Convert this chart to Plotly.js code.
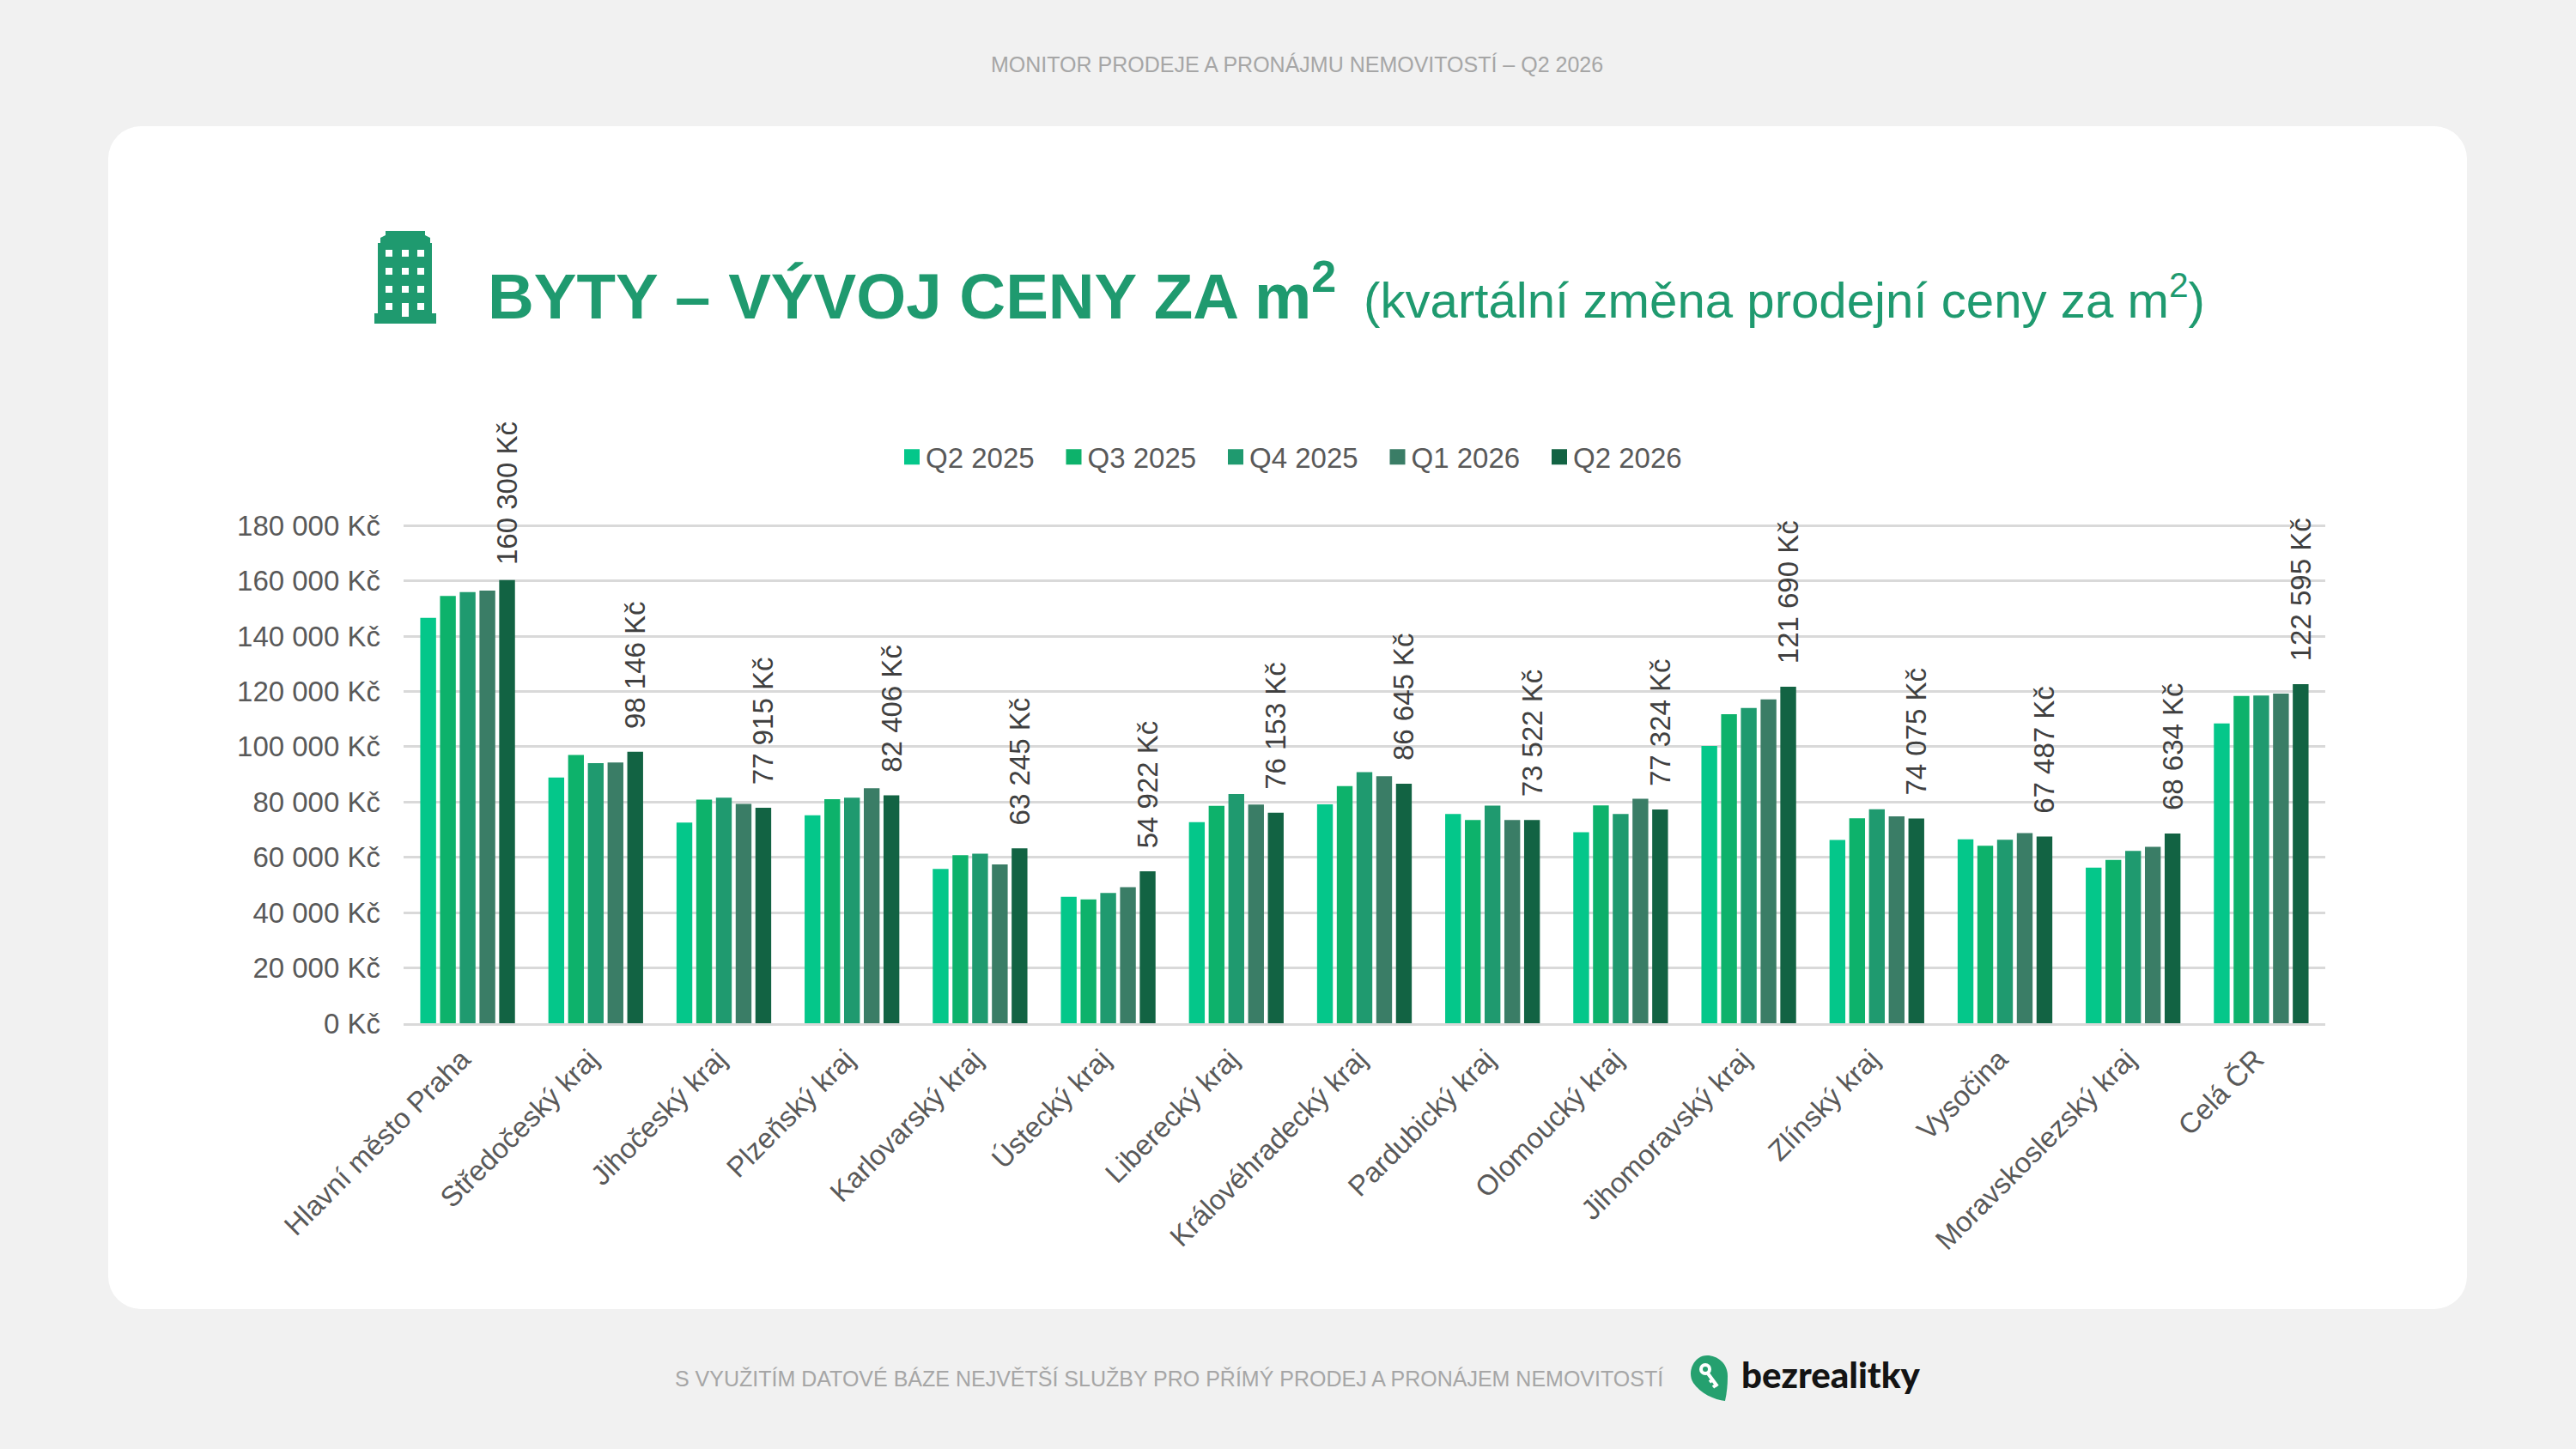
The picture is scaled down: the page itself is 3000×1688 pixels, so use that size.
<!DOCTYPE html>
<html>
<head>
<meta charset="utf-8">
<script src="https://cdn.plot.ly/plotly-3.0.1.min.js"></script>
<style>
  html, body { margin: 0; padding: 0; background: #f1f1f1; }
  #page { position: relative; width: 3000px; height: 1688px; overflow: hidden; background: #f1f1f1; }
  #card { position: absolute; left: 126px; top: 147px; width: 2747px; height: 1378px; background: #fff; border-radius: 38px; }
  #chart { position: absolute; left: 0; top: 0; width: 3000px; height: 1688px; }
  #building { position: absolute; left: 436px; top: 269px; }
  #logo { position: absolute; left: 1964px; top: 1576px; }
</style>
</head>
<body>
<div id="page">
  <div id="card"></div>
  <div id="chart"></div>
  <svg id="building" width="72" height="108" viewBox="0 0 72 108">
    <path fill="#1f9a6f" d="M0 108V96H4V14H7V8L13 5V0H59V5L65 8V14H67V96H72V108Z"/>
    <g fill="#fff">
      <rect x="13" y="22" width="8" height="8"/><rect x="32" y="22" width="8" height="8"/><rect x="50" y="22" width="8" height="8"/>
      <rect x="13" y="43" width="8" height="8"/><rect x="32" y="43" width="8" height="8"/><rect x="50" y="43" width="8" height="8"/>
      <rect x="13" y="64" width="8" height="8"/><rect x="32" y="64" width="8" height="8"/><rect x="50" y="64" width="8" height="8"/>
      <rect x="13" y="84" width="8" height="8"/><rect x="32" y="84" width="8" height="16"/><rect x="50" y="84" width="8" height="8"/>
    </g>
  </svg>
  <svg id="logo" width="280" height="62" viewBox="0 0 280 62">
    <path fill="#25a06f" d="M24 3C36 3 48 12 48 27C48 38 47 47 45 56C33 55 16 47 8 35C0 22 9 3 24 3Z"/>
    <circle cx="22" cy="19" r="7" fill="#fff"/>
    <circle cx="22" cy="19" r="3" fill="#25a06f"/>
    <path d="M25 24L36 39M31 31L27 34M35 37L31 40" fill="none" stroke="#fff" stroke-width="4"/>
    <text x="64" y="41" font-family="Lato" font-weight="900" font-size="42" fill="#141414">bezrealitky</text>
  </svg>
</div>
<script type="text/javascript">

    /* * Data * */
    var categories = ['Hlavní město Praha','Středočeský kraj','Jihočeský kraj','Plzeňský kraj','Karlovarský kraj','Ústecký kraj','Liberecký kraj','Královéhradecký kraj','Pardubický kraj','Olomoucký kraj','Jihomoravský kraj','Zlínský kraj','Vysočina','Moravskoslezský kraj','Celá ČR'];
    var q2_2025 = [146600,88900,72600,75200,55800,45700,72700,79200,75700,69100,100300,66300,66500,56300,108400];
    var q3_2025 = [154500,97000,80900,81000,60800,44800,78600,85800,73500,78800,111800,74100,64200,59100,118400];
    var q4_2025 = [155900,94100,81600,81600,61300,47100,82900,90800,78700,75700,114000,77400,66400,62300,118500];
    var q1_2026 = [156500,94300,79300,85000,57400,49200,79100,89300,73500,81200,117100,74800,68800,63800,119200];
    var q2_2026 = [160300,98146,77915,82406,63245,54922,76153,86645,73522,77324,121690,74075,67487,68634,122595];
    var series_names = ['Q2 2025','Q3 2025','Q4 2025','Q1 2026','Q2 2026'];
    var series_colors = ['#04c78a','#0db26b','#1f9a6f','#3a7d66','#126343'];
    var series_values = [q2_2025,q3_2025,q4_2025,q1_2026,q2_2026];

    var font_name = '"Liberation Sans", Arial, sans-serif';

    /* * Utilities * */
    /* top edge sits a little above 180 000, Plotly drops a gridline lying on the very edge */
    var plot_left = 470, plot_right = 2708, plot_top = 608.8, plot_bottom = 1192.5;
    var y_max = 181000;

    function paper_x(px) { return (px - plot_left) / (plot_right - plot_left); }
    function paper_y(py) { return (plot_bottom - py) / (plot_bottom - plot_top); }

    /* leading spaces lift the rotated label off the bar, the first one sits closer */
    function price_label(v, i) {
        var s = String(v);
        var pad = i == 0 ? '\u00a0\u2006' : '\u00a0\u00a0\u2006';
        return pad + s.slice(0, -3) + ' ' + s.slice(-3) + ' Kč';
    }

    function page_text(text, px, py, size, color, anchor) {
        return {
            text: text, xref: 'paper', yref: 'paper', x: paper_x(px), y: paper_y(py),
            xanchor: anchor, yanchor: 'middle', showarrow: false,
            font: { family: font_name, size: size, color: color }
        };
    }

    /* * Traces * */
    var data = [];
    for (var i in series_names) {
        var trace = {
            type: 'bar',
            name: series_names[i],
            x: categories,
            y: series_values[i],
            marker: { color: series_colors[i] },
            hoverinfo: 'skip'
        };
        if (i == 4) {
            trace.text = q2_2026.map(price_label);
            trace.textposition = 'outside';
            trace.textangle = -90;
            trace.constraintext = 'none';
            trace.cliponaxis = false;
            trace.textfont = { family: font_name, size: 33, color: '#404040' };
        }
        data.push(trace);
    }

    var layout = {
        width: 3000,
        height: 1688,
        paper_bgcolor: 'rgba(0,0,0,0)',
        plot_bgcolor: 'rgba(0,0,0,0)',
        margin: { l: plot_left, r: 3000 - plot_right, t: plot_top, b: 1688 - plot_bottom, pad: 0 },
        barmode: 'group',
        bargap: 0.23,
        bargroupgap: 0.2,
        separators: ', ',
        showlegend: true,
        legend: {
            orientation: 'h',
            x: paper_x(1038), xanchor: 'left',
            y: paper_y(532), yanchor: 'middle',
            entrywidth: 143.5, entrywidthmode: 'pixels',
            itemclick: false, itemdoubleclick: false,
            traceorder: 'normal',
            font: { family: font_name, size: 33, color: '#595959' }
        },
        xaxis: {
            type: 'category',
            tickangle: -45,
            tickmode: 'array',
            tickvals: categories,
            ticktext: categories.map(function (c) { return c + '\u00a0'; }),
            showline: true, linecolor: '#d9d9d9', linewidth: 3,
            ticks: '',
            showgrid: false,
            tickfont: { family: font_name, size: 33, color: '#595959' }
        },
        yaxis: {
            range: [0, y_max],
            tick0: 0, dtick: 20000,
            tickformat: ',d',
            ticksuffix: ' Kč',
            showline: false,
            zeroline: false,
            gridcolor: '#d9d9d9', gridwidth: 3,
            ticks: '',
            ticklabelstandoff: 26,
            tickfont: { family: font_name, size: 33, color: '#595959' }
        },
        annotations: [
            page_text('MONITOR PRODEJE A PRONÁJMU NEMOVITOSTÍ – Q2 2026', 1510, 74, 25, '#a6a6a6', 'center'),
            page_text('<b>BYTY – VÝVOJ CENY ZA m<sup>2</sup></b>', 566, 339, 74.5, '#1f9a6f', 'left'),
            page_text('(kvartální změna prodejní ceny za m<sup>2</sup>)', 1586, 345, 58.2, '#1f9a6f', 'left'),
            page_text('S VYUŽITÍM DATOVÉ BÁZE NEJVĚTŠÍ SLUŽBY PRO PŘÍMÝ PRODEJ A PRONÁJEM NEMOVITOSTÍ', 784, 1607, 25, '#a6a6a6', 'left')
        ]
    };

    Plotly.newPlot('chart', data, layout, { displayModeBar: false, responsive: false }).then(function () {
        /* legend squares are bigger and closer to the text than the default ones */
        document.querySelectorAll('.legendpoints path').forEach(function (p) {
            p.setAttribute('transform', 'translate(24,0) scale(1.5)');
        });
    });

</script>
</body>
</html>
